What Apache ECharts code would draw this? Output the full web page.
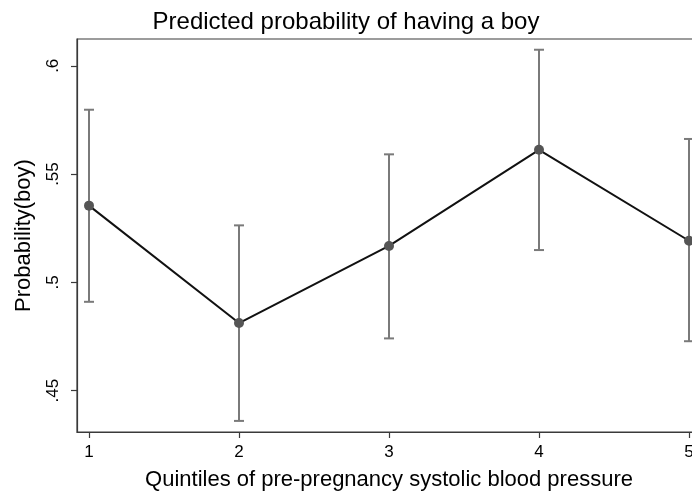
<!DOCTYPE html>
<html>
<head>
<meta charset="utf-8">
<script src="https://cdn.jsdelivr.net/npm/echarts@6/dist/echarts.min.js"></script>
<style>
html, body { margin: 0; padding: 0; background: #fff; }
#myChart { width: 692px; height: 502px; }
</style>
</head>
<body>
<div id="myChart"></div>
<script>
// quintiles and predicted probabilities
const quintiles = [1, 2, 3, 4, 5]
const probBoy = [0.5354, 0.4812, 0.5168, 0.5612, 0.5192]
const ciLow = [0.4910, 0.4360, 0.4741, 0.5149, 0.4728]
const ciHigh = [0.5797, 0.5263, 0.5591, 0.6074, 0.5662]
const yTicks = [0.45, 0.5, 0.55, 0.6]

const font = 'Liberation Sans, Arial, sans-serif'

let myChart = echarts.init(document.getElementById('myChart'), null, { renderer: 'canvas' })

let lineData = quintiles.map((q, i) => [q, probBoy[i]])
let barData = quintiles.map((q, i) => [q, ciLow[i], ciHigh[i]])

myChart.setOption({
  animation: false,
  title: {
    text: 'Predicted probability of having a boy',
    left: 'center',
    top: 5,
    textStyle: { fontFamily: font, fontSize: 24, fontWeight: 'normal', color: '#000' }
  },
  grid: {
    left: 77,
    top: 39,
    width: 624,
    height: 393,
    outerBoundsMode: 'none',
    containLabel: false,
    show: true,
    borderColor: '#3a3a3a',
    borderWidth: 1.2,
    backgroundColor: '#fff'
  },
  xAxis: {
    type: 'value',
    min: 0.92,
    max: 5.08,
    name: 'Quintiles of pre-pregnancy systolic blood pressure',
    nameLocation: 'middle',
    nameGap: 37,
    nameTextStyle: { fontFamily: font, fontSize: 22, color: '#000' },
    splitLine: { show: false },
    axisLine: { show: true, lineStyle: { color: '#3a3a3a', width: 1.2 } },
    axisTick: { show: true, length: 6, customValues: quintiles, lineStyle: { color: '#3a3a3a', width: 1.2 } },
    axisLabel: { customValues: quintiles, fontFamily: font, fontSize: 17, color: '#000', margin: 12 }
  },
  yAxis: {
    type: 'value',
    min: 0.43088,
    max: 0.61236,
    name: 'Probability(boy)',
    nameLocation: 'middle',
    nameGap: 42,
    nameTextStyle: { fontFamily: font, fontSize: 22, color: '#000' },
    splitLine: { show: false },
    axisLine: { show: true, lineStyle: { color: '#3a3a3a', width: 1.2 } },
    axisTick: { show: true, length: 6, customValues: yTicks, lineStyle: { color: '#3a3a3a', width: 1.2 } },
    axisLabel: {
      customValues: yTicks,
      rotate: 90,
      fontFamily: font,
      fontSize: 17,
      color: '#000',
      margin: 15,
      formatter: v => String(v).replace(/^0/, '')
    }
  },
  series: [
    {
      // confidence intervals
      type: 'custom',
      data: barData,
      z: 2,
      renderItem: function(params, api) {
        let x = api.value(0)
        let lo = api.coord([x, api.value(1)])
        let hi = api.coord([x, api.value(2)])
        let cap = 5
        let style = { stroke: '#7a7a7a', lineWidth: 2 }
        return {
          type: 'group',
          children: [
            { type: 'line', shape: { x1: lo[0], y1: lo[1], x2: hi[0], y2: hi[1] }, style: style },
            { type: 'line', shape: { x1: lo[0] - cap, y1: lo[1], x2: lo[0] + cap, y2: lo[1] }, style: style },
            { type: 'line', shape: { x1: hi[0] - cap, y1: hi[1], x2: hi[0] + cap, y2: hi[1] }, style: style }
          ]
        }
      }
    },
    {
      type: 'line',
      data: lineData,
      z: 3,
      symbol: 'circle',
      symbolSize: 10,
      lineStyle: { color: '#111', width: 2 },
      itemStyle: { color: '#555' }
    }
  ]
})
</script>
</body>
</html>
